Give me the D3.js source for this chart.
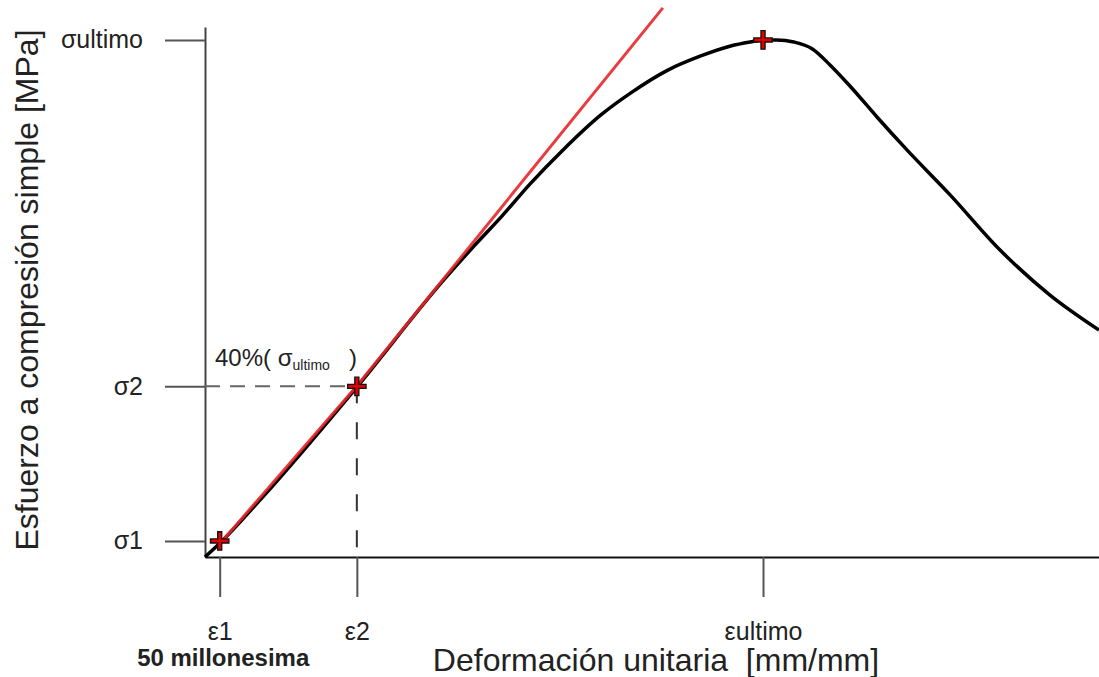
<!DOCTYPE html>
<html>
<head>
<meta charset="utf-8">
<script src="https://cdn.jsdelivr.net/npm/d3@7"></script>
<style>
  html, body { margin: 0; padding: 0; background: #fff; }
  svg { display: block; font-family: Arial, 'Liberation Sans', sans-serif; }
</style>
</head>
<body>
<svg id="chart" width="1099" height="677"></svg>
<script>
// curva esfuerzo-deformacion (microdeformacion, MPa)
const strain = [0, 58, 187, 517, 810, 919, 1011, 1107, 1219, 1348, 1450, 1576, 1688, 1790, 1856, 1900, 1947, 2005, 2067, 2128, 2196, 2288, 2390, 2537, 2707, 2877, 3044];
const stress = [0, 0.93, 3.3, 9.86, 16.02, 18.10, 19.78, 21.65, 23.62, 25.65, 26.93, 28.25, 29.07, 29.65, 29.88, 30.0, 30.0, 29.88, 29.49, 28.55, 27.33, 25.53, 23.62, 21.01, 17.81, 15.20, 13.17];

// recta del modulo
const lineStrain = [47, 517, 1559];
const lineStress = [0.70, 9.92, 31.86];

// puntos marcados
const pointStrain = [50, 517, 1900];
const pointStress = [0.93, 9.9, 30];

const xTickLabels = ['ε1', 'ε2', 'εultimo'];
const yTickLabels = ['σ1', 'σ2', 'σultimo'];

const width = 1099, height = 677;

const x = d3.scaleLinear().domain([0, 3044]).range([205, 1099]);
const y = d3.scaleLinear().domain([0, 30.75]).range([557, 27]);

const svg = d3.select('#chart');

// ejes
const yAxis = svg.append('g')
    .attr('transform', 'translate(' + x(0) + ',0)')
    .call(d3.axisLeft(y)
        .tickValues(pointStress)
        .tickFormat((d, i) => yTickLabels[i])
        .tickSize(40)
        .tickSizeOuter(0)
        .tickPadding(22));

const xAxis = svg.append('g')
    .attr('transform', 'translate(0,' + y(0) + ')')
    .call(d3.axisBottom(x)
        .tickValues(pointStrain)
        .tickFormat((d, i) => xTickLabels[i])
        .tickSize(40)
        .tickSizeOuter(0)
        .tickPadding(25));

yAxis.select('.domain').attr('stroke', '#444').attr('stroke-width', 2);
xAxis.select('.domain').attr('stroke', '#111').attr('stroke-width', 2);
svg.selectAll('.tick line').attr('stroke', '#555').attr('stroke-width', 2);
svg.selectAll('.tick text')
    .attr('fill', '#222')
    .style('font-size', '25px')
    .style('font-family', "Arial, 'Liberation Sans', sans-serif");

// segunda linea bajo ε1
xAxis.select('.tick text')
    .append('tspan')
    .attr('x', 3)
    .attr('dy', '1.1em')
    .style('font-weight', 'bold')
    .style('font-size', '24px')
    .text('50 millonesima');

// lineas de referencia punteadas
svg.append('line')
    .attr('x1', x(0)).attr('x2', x(pointStrain[1]))
    .attr('y1', y(pointStress[1])).attr('y2', y(pointStress[1]))
    .attr('stroke', '#666').attr('stroke-width', 2)
    .attr('stroke-dasharray', '15,10');

svg.append('line')
    .attr('x1', x(pointStrain[1])).attr('x2', x(pointStrain[1]))
    .attr('y1', y(pointStress[1])).attr('y2', y(0))
    .attr('stroke', '#333').attr('stroke-width', 2)
    .attr('stroke-dasharray', '17,19');

// curva
const curve = d3.line()
    .x((d, i) => x(strain[i]))
    .y((d, i) => y(stress[i]))
    .curve(d3.curveMonotoneX);

svg.append('path')
    .attr('d', curve(strain))
    .attr('fill', 'none')
    .attr('stroke', '#000')
    .attr('stroke-width', 3.5)
    .attr('stroke-linejoin', 'round');

const tangent = d3.line()
    .x((d, i) => x(lineStrain[i]))
    .y((d, i) => y(lineStress[i]));

svg.append('path')
    .attr('d', tangent(lineStrain))
    .attr('fill', 'none')
    .attr('stroke', '#e8262a')
    .attr('stroke-opacity', 0.9)
    .attr('stroke-width', 3);

// marcador cruz
const plus = {
    draw(context, size) {
        const a = Math.sqrt(size) / 2, b = a / 4.5;
        context.moveTo(-a, -b);
        context.lineTo(-b, -b);
        context.lineTo(-b, -a);
        context.lineTo(b, -a);
        context.lineTo(b, -b);
        context.lineTo(a, -b);
        context.lineTo(a, b);
        context.lineTo(b, b);
        context.lineTo(b, a);
        context.lineTo(-b, a);
        context.lineTo(-b, b);
        context.lineTo(-a, b);
        context.closePath();
    }
};

svg.selectAll('.marker')
    .data(pointStrain)
    .enter()
    .append('path')
        .attr('class', 'marker')
        .attr('transform', (d, i) => 'translate(' + x(d) + ',' + y(pointStress[i]) + ')')
        .attr('d', d3.symbol().type(plus).size(340))
        .attr('fill', '#e00000')
        .attr('stroke', '#111')
        .attr('stroke-width', 1.3);

// anotacion 40%
const note = svg.append('text')
    .attr('x', 215)
    .attr('y', 366)
    .attr('fill', '#222')
    .style('font-size', '24px');
note.append('tspan').text('40%( σ');
note.append('tspan').attr('dy', 4).style('font-size', '14px').text('ultimo');
note.append('tspan').attr('x', 349).attr('dy', -4).text(')');

// titulos
svg.append('text')
    .attr('x', 656)
    .attr('y', 671)
    .attr('text-anchor', 'middle')
    .attr('fill', '#222')
    .style('font-size', '32px')
    .style('white-space', 'pre')
    .text('Deformación unitaria  [mm/mm]');

svg.append('text')
    .attr('transform', 'translate(38,290) rotate(-90)')
    .attr('text-anchor', 'middle')
    .attr('fill', '#222')
    .style('font-size', '32px')
    .text('Esfuerzo a compresión simple [MPa]');
</script>
</body>
</html>
